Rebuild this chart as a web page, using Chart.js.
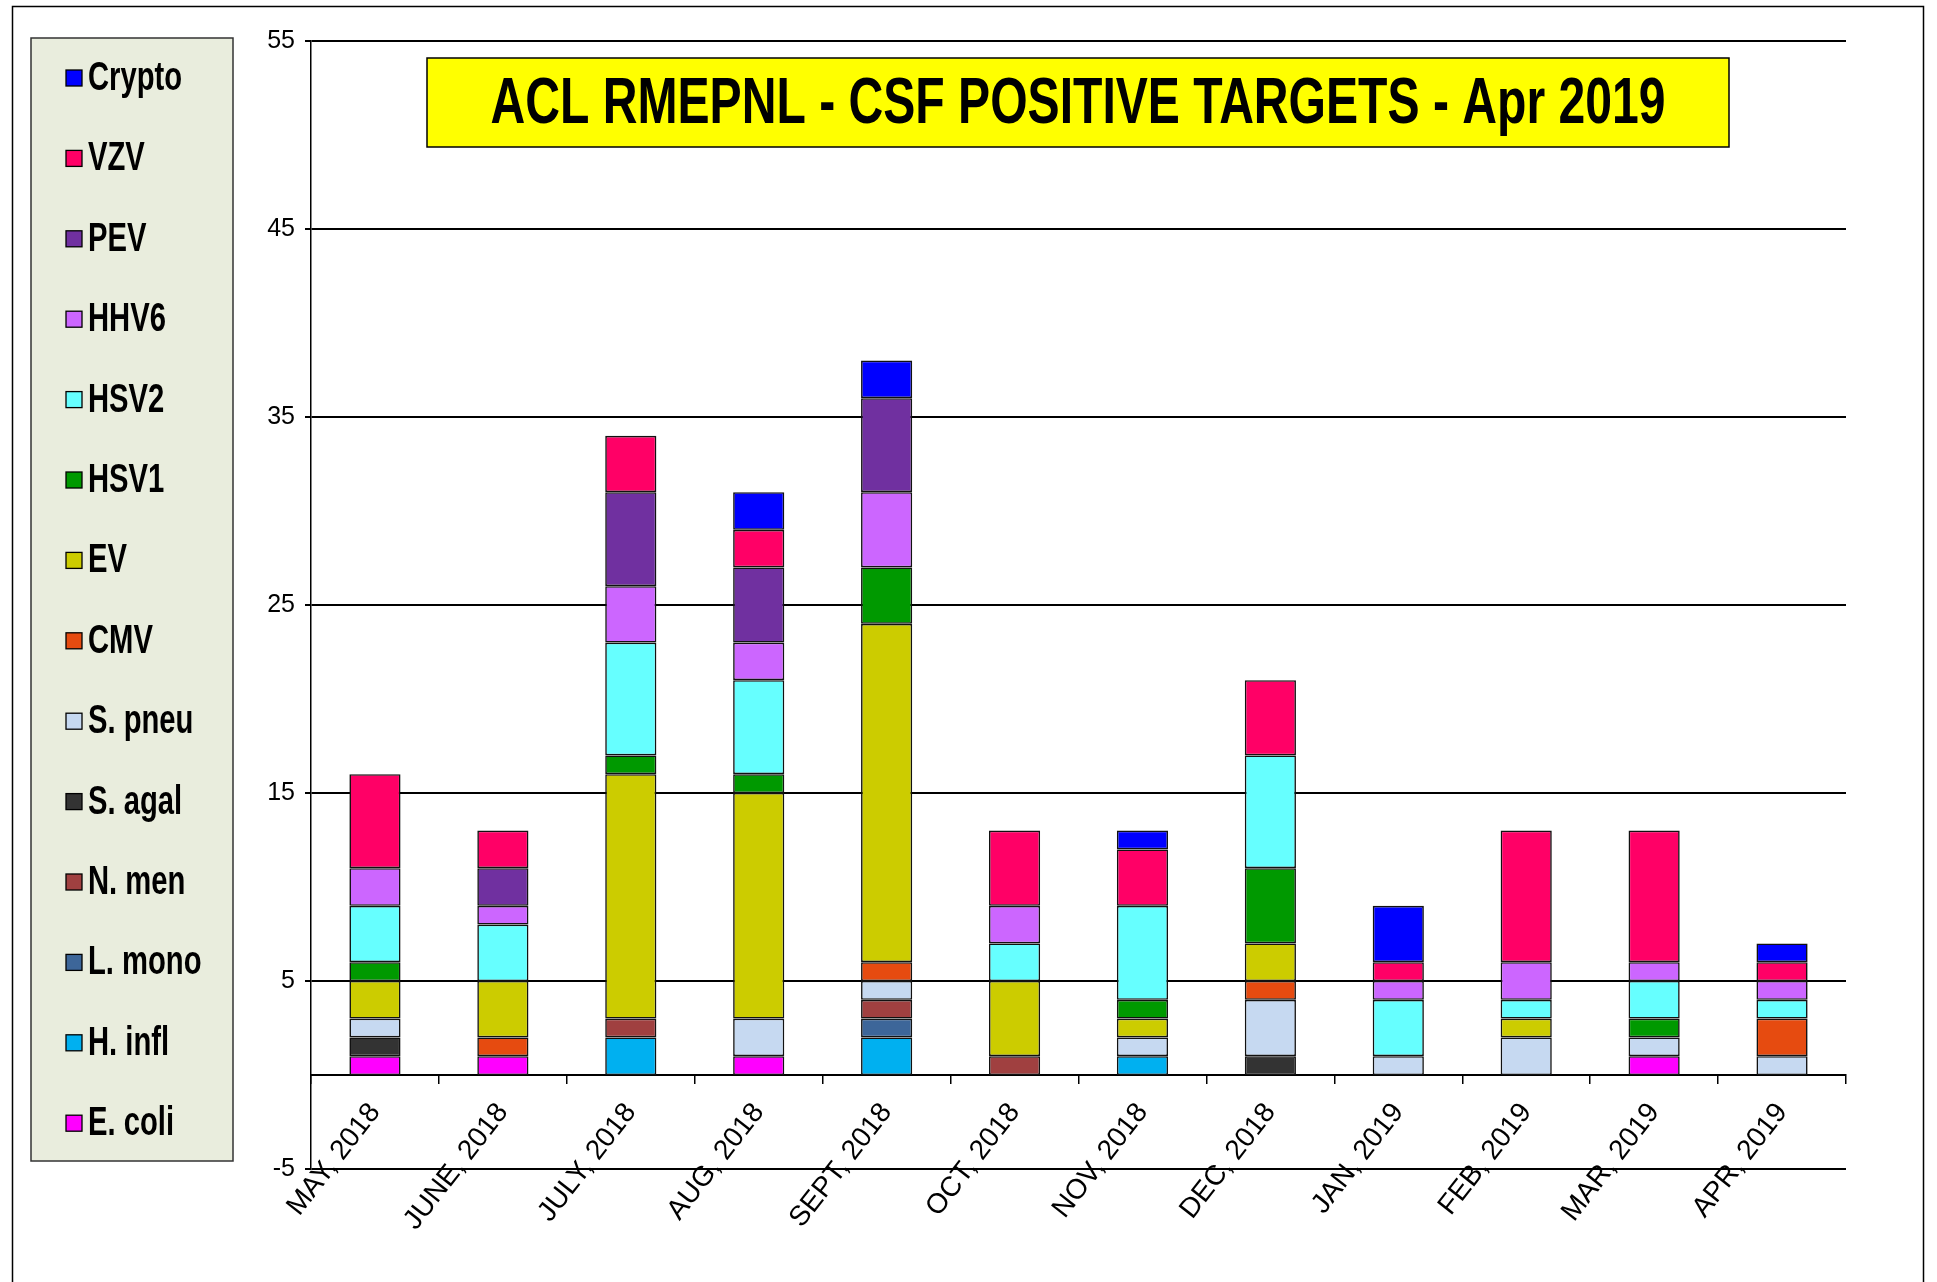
<!DOCTYPE html>
<html><head><meta charset="utf-8">
<script src="https://cdn.jsdelivr.net/npm/chart.js@4.4.1/dist/chart.umd.min.js"></script>
<style>html,body{margin:0;padding:0;background:#fff;}canvas{display:block;}</style>
</head><body>
<canvas id="c" width="1937" height="1282"></canvas>
<script>
const categories = ['MAY, 2018','JUNE, 2018','JULY, 2018','AUG, 2018','SEPT, 2018','OCT, 2018','NOV, 2018','DEC, 2018','JAN, 2019','FEB, 2019','MAR, 2019','APR, 2019'];
const yTicks = [-5, 5, 15, 25, 35, 45, 55];
const titleText = 'ACL RMEPNL - CSF POSITIVE TARGETS - Apr 2019';

// series, listed bottom of stack to top
const eColi  = [1,1,0,1,0,0,0,0,0,0,1,0];
const hInfl  = [0,0,2,0,2,0,1,0,0,0,0,0];
const lMono  = [0,0,0,0,1,0,0,0,0,0,0,0];
const nMen   = [0,0,1,0,1,1,0,0,0,0,0,0];
const sAgal  = [1,0,0,0,0,0,0,1,0,0,0,0];
const sPneu  = [1,0,0,2,1,0,1,3,1,2,1,1];
const cmv    = [0,1,0,0,1,0,0,1,0,0,0,2];
const ev     = [2,3,13,12,18,4,1,2,0,1,0,0];
const hsv1   = [1,0,1,1,3,0,1,4,0,0,1,0];
const hsv2   = [3,3,6,5,0,2,5,6,3,1,2,1];
const hhv6   = [2,1,3,2,4,2,0,0,1,2,1,1];
const pev    = [0,2,5,4,5,0,0,0,0,0,0,0];
const vzv    = [5,2,3,2,0,4,3,4,1,7,7,1];
const crypto = [0,0,0,2,2,0,1,0,3,0,0,1];

const seriesNames  = ['E. coli','H. infl','L. mono','N. men','S. agal','S. pneu','CMV','EV','HSV1','HSV2','HHV6','PEV','VZV','Crypto'];
const seriesData   = [eColi, hInfl, lMono, nMen, sAgal, sPneu, cmv, ev, hsv1, hsv2, hhv6, pev, vzv, crypto];
const seriesColors = ['#FF00FF','#00B0F0','#3D6699','#A04040','#333333','#C6D9F1','#E64B10','#CCCC00','#009900','#66FFFF','#CC66FF','#7030A0','#FF0066','#0000FF'];

const datasets = seriesNames.map((n, i) => ({
  label: n,
  data: seriesData[i],
  backgroundColor: seriesColors[i],
  borderColor: '#111',
  borderWidth: 1.6,
  borderSkipped: false,
  barPercentage: 0.4,
  categoryPercentage: 1.0
}));

function condensedText(ctx, text, x, y, sx) {
  ctx.save();
  ctx.translate(x, y);
  ctx.scale(sx, 1);
  ctx.fillText(text, 0, 0);
  ctx.restore();
}

const framePlugin = {
  id: 'frame',
  beforeDraw(chart) {
    const ctx = chart.ctx;
    ctx.save();
    ctx.fillStyle = '#fff';
    ctx.fillRect(0, 0, chart.width, chart.height);
    ctx.strokeStyle = '#000';
    ctx.lineWidth = 1.5;
    ctx.strokeRect(12.5, 6.5, 1911, 1400);
    // legend box
    ctx.fillStyle = '#E9EDDD';
    ctx.fillRect(31, 38, 202, 1123);
    ctx.strokeStyle = '#333';
    ctx.lineWidth = 1.5;
    ctx.strokeRect(31, 38, 202, 1123);
    ctx.restore();
  }
};

const sideLegend = {
  id: 'sideLegend',
  afterDraw(chart) {
    const ctx = chart.ctx;
    ctx.save();
    const ds = chart.data.datasets.slice().reverse();
    ds.forEach((d, i) => {
      const cy = 78 + i * 80.4;
      ctx.fillStyle = d.backgroundColor;
      ctx.fillRect(66, cy - 8, 16, 16);
      ctx.strokeStyle = '#000';
      ctx.lineWidth = 1.3;
      ctx.strokeRect(66, cy - 8, 16, 16);
      ctx.fillStyle = '#000';
      ctx.font = 'bold 40px "Liberation Sans", Arial, sans-serif';
      ctx.textBaseline = 'middle';
      ctx.textAlign = 'left';
      condensedText(ctx, d.label, 88, cy + 1, 0.73);
    });
    ctx.restore();
  }
};

const titlePlugin = {
  id: 'titleBox',
  afterDraw(chart) {
    const ctx = chart.ctx;
    ctx.save();
    ctx.fillStyle = '#FFFF00';
    ctx.fillRect(427, 58, 1302, 89);
    ctx.strokeStyle = '#000';
    ctx.lineWidth = 1.5;
    ctx.strokeRect(427, 58, 1302, 89);
    ctx.fillStyle = '#000';
    ctx.font = 'bold 65px "Liberation Sans", Arial, sans-serif';
    ctx.textAlign = 'center';
    ctx.textBaseline = 'middle';
    condensedText(ctx, titleText, 1078, 105, 0.74);
    ctx.restore();
  }
};

const tickFont = { family: '"Liberation Sans Narrow", "Liberation Sans", Arial, sans-serif', size: 25 };
const xTickFont = { family: '"Liberation Sans Narrow", "Liberation Sans", Arial, sans-serif', size: 28 };

new Chart(document.getElementById('c').getContext('2d'), {
  type: 'bar',
  data: { labels: categories, datasets },
  options: {
    responsive: false,
    animation: false,
    devicePixelRatio: 1,
    layout: { padding: { left: 231, right: 91, top: 41, bottom: 113 } },
    plugins: { legend: { display: false }, title: { display: false }, tooltip: { enabled: false } },
    scales: {
      x: {
        stacked: true,
        position: { y: 0 },
        offset: true,
        grid: { display: true, drawOnChartArea: false, drawTicks: true, tickLength: 8, color: '#000', lineWidth: 1.5, offset: true },
        border: { display: true, color: '#000', width: 2 },
        ticks: { color: '#000', font: xTickFont, maxRotation: 52, minRotation: 52, padding: 14, autoSkip: false }
      },
      y: {
        stacked: true,
        min: -5,
        max: 55,
        ticks: { stepSize: 10, color: '#000', font: tickFont, padding: 10 },
        afterBuildTicks: s => { s.ticks = yTicks.map(v => ({ value: v })); },
        afterFit: s => { s.width = 80; },
        grid: { color: '#000', lineWidth: 2, tickLength: 6, drawTicks: true },
        border: { display: true, color: '#000', width: 1.5 }
      }
    }
  },
  plugins: [framePlugin, titlePlugin, sideLegend]
});
</script>
</body></html>
